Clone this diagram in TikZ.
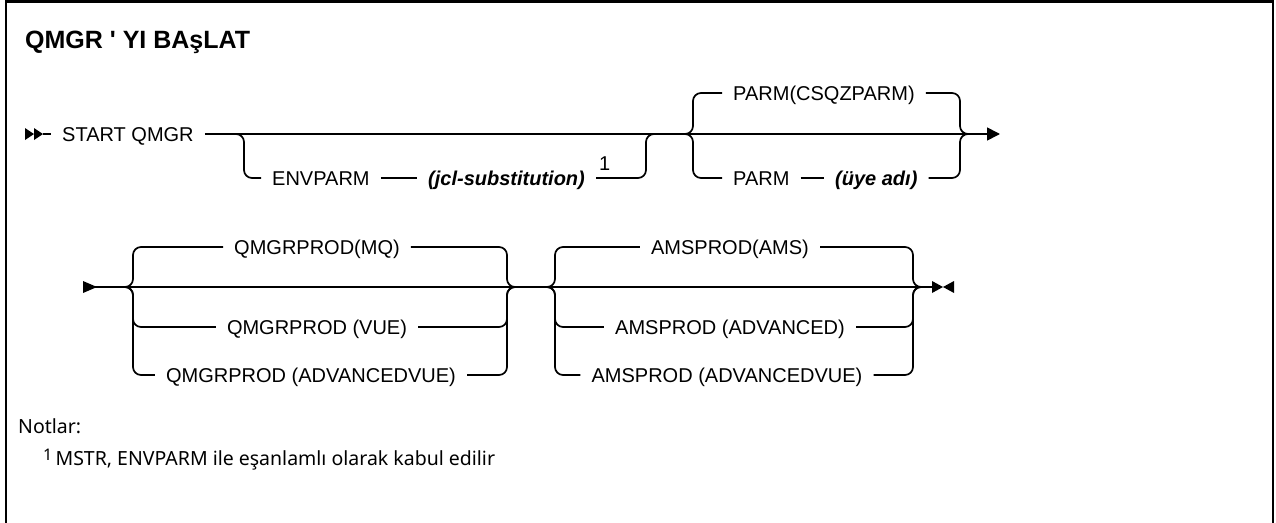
\documentclass[tikz,border=0pt]{standalone}
\usepackage{fontspec}
\setmainfont{Liberation Sans}
\newfontfamily\notefont{Noto Sans}
\usetikzlibrary{arrows.meta,positioning,calc}

\tikzset{
  rail/.style={line width=1.7pt, rounded corners=8pt},
  kw/.style={inner xsep=11pt, inner ysep=0pt, text height=14.3pt, text depth=0pt,
    font=\fontsize{20}{24}\selectfont},
  var/.style={kw, font=\fontsize{20}{24}\selectfont\bfseries\itshape},
  note/.style={anchor=base west, inner sep=0pt, font=\notefont\fontsize{19.5}{23}\selectfont},
}

\begin{document}
\begin{tikzpicture}[x=1pt,y=-1pt]
  \useasboundingbox (0,0) rectangle (1276,522);
  \draw[line width=2.5pt] (6,540) -- (6,1.5) -- (1273,1.5) -- (1273,540);
  \node[anchor=base west, inner sep=0pt, font=\fontsize{25}{29}\selectfont\bfseries] (title) at (25,48) {QMGR \textquotesingle{} YI BAşLAT};

  % first line
  \coordinate (r1s) at (43,134); \coordinate (r1e) at (1000,134);
  \fill (25,128) -- (34,134) -- (25,140) -- cycle;
  \fill (34,128) -- (43,134) -- (34,140) -- cycle;
  \node[kw,anchor=west] (cmd) at (51,134) {START QMGR};
  \draw[rail] (r1s) -- (cmd.west);
  \draw[rail,-{Triangle[length=13pt,width=13pt]}] (cmd.east) -- (r1e);

  % ENVPARM
  \coordinate (e1) at (244,134); \coordinate (e2) at (646,134);
  \node[kw,anchor=west] (envparm) at (261,178) {ENVPARM};
  \node[var,anchor=west] (jcl) at (417,178) {(jcl-substitution)};
  \node[inner sep=0pt, anchor=south west, font=\fontsize{20}{24}\selectfont] (fn1) at (599,171) {1};
  \draw[rail] ($(e1)+(-10,0)$) -- (e1) |- (envparm.west);
  \draw[rail] (envparm.east) -- (jcl.west);
  \draw[rail] (jcl.east) -| (e2) -- ++(10,0);

  % PARM
  \coordinate (p1) at (693,134); \coordinate (p2) at (960,134);
  \node[kw,anchor=west] (parmdef) at (722,93) {PARM(CSQZPARM)};
  \node[kw,anchor=west] (parm) at (722,178) {PARM};
  \node[var,anchor=west] (member) at (824,178) {(üye adı)};
  \draw[rail] (parm.east) -- (member.west);
  \foreach \a/\b in {parmdef/parmdef,parm/member}{
    \draw[rail] ($(p1)+(-10,0)$) -- (p1) |- (\a.west);
    \draw[rail] (\b.east) -| (p2) -- ++(10,0);
  }

  % second line
  \coordinate (r2s) at (83,287); \coordinate (r2e) at (932,287);
  \fill (83,281) -- (97,287) -- (83,293) -- cycle;
  \fill (932,281) -- (943,287) -- (932,293) -- cycle;
  \fill (954,281) -- (943,287) -- (954,293) -- cycle;
  \draw[rail] (r2s) -- (r2e);

  % QMGRPROD
  \coordinate (q1) at (133,287); \coordinate (q2) at (507,287);
  \node[kw] (mq) at (317,247) {QMGRPROD(MQ)};
  \node[kw] (vue) at (317,327) {QMGRPROD (VUE)};
  \node[kw] (advvue) at (311,375) {QMGRPROD (ADVANCEDVUE)};
  \foreach \n in {mq,vue,advvue}{
    \draw[rail] ($(q1)+(-10,0)$) -- (q1) |- (\n.west);
    \draw[rail] (\n.east) -| (q2) -- ++(10,0);
  }

  % AMSPROD
  \coordinate (m1) at (555,287); \coordinate (m2) at (913,287);
  \node[kw] (ams) at (730,247) {AMSPROD(AMS)};
  \node[kw] (adv) at (730,327) {AMSPROD (ADVANCED)};
  \node[kw] (amsadvvue) at (727,375) {AMSPROD (ADVANCEDVUE)};
  \foreach \n in {ams,adv,amsadvvue}{
    \draw[rail] ($(m1)+(-10,0)$) -- (m1) |- (\n.west);
    \draw[rail] (\n.east) -| (m2) -- ++(10,0);
  }

  % notes
  \node[note] (notes) at (18,433) {Notlar:};
  \node[note] (note1) at (43,465) {\raisebox{5pt}{\fontsize{16}{18}\selectfont 1}\,MSTR, ENVPARM ile eşanlamlı olarak kabul edilir};
\end{tikzpicture}
\end{document}
